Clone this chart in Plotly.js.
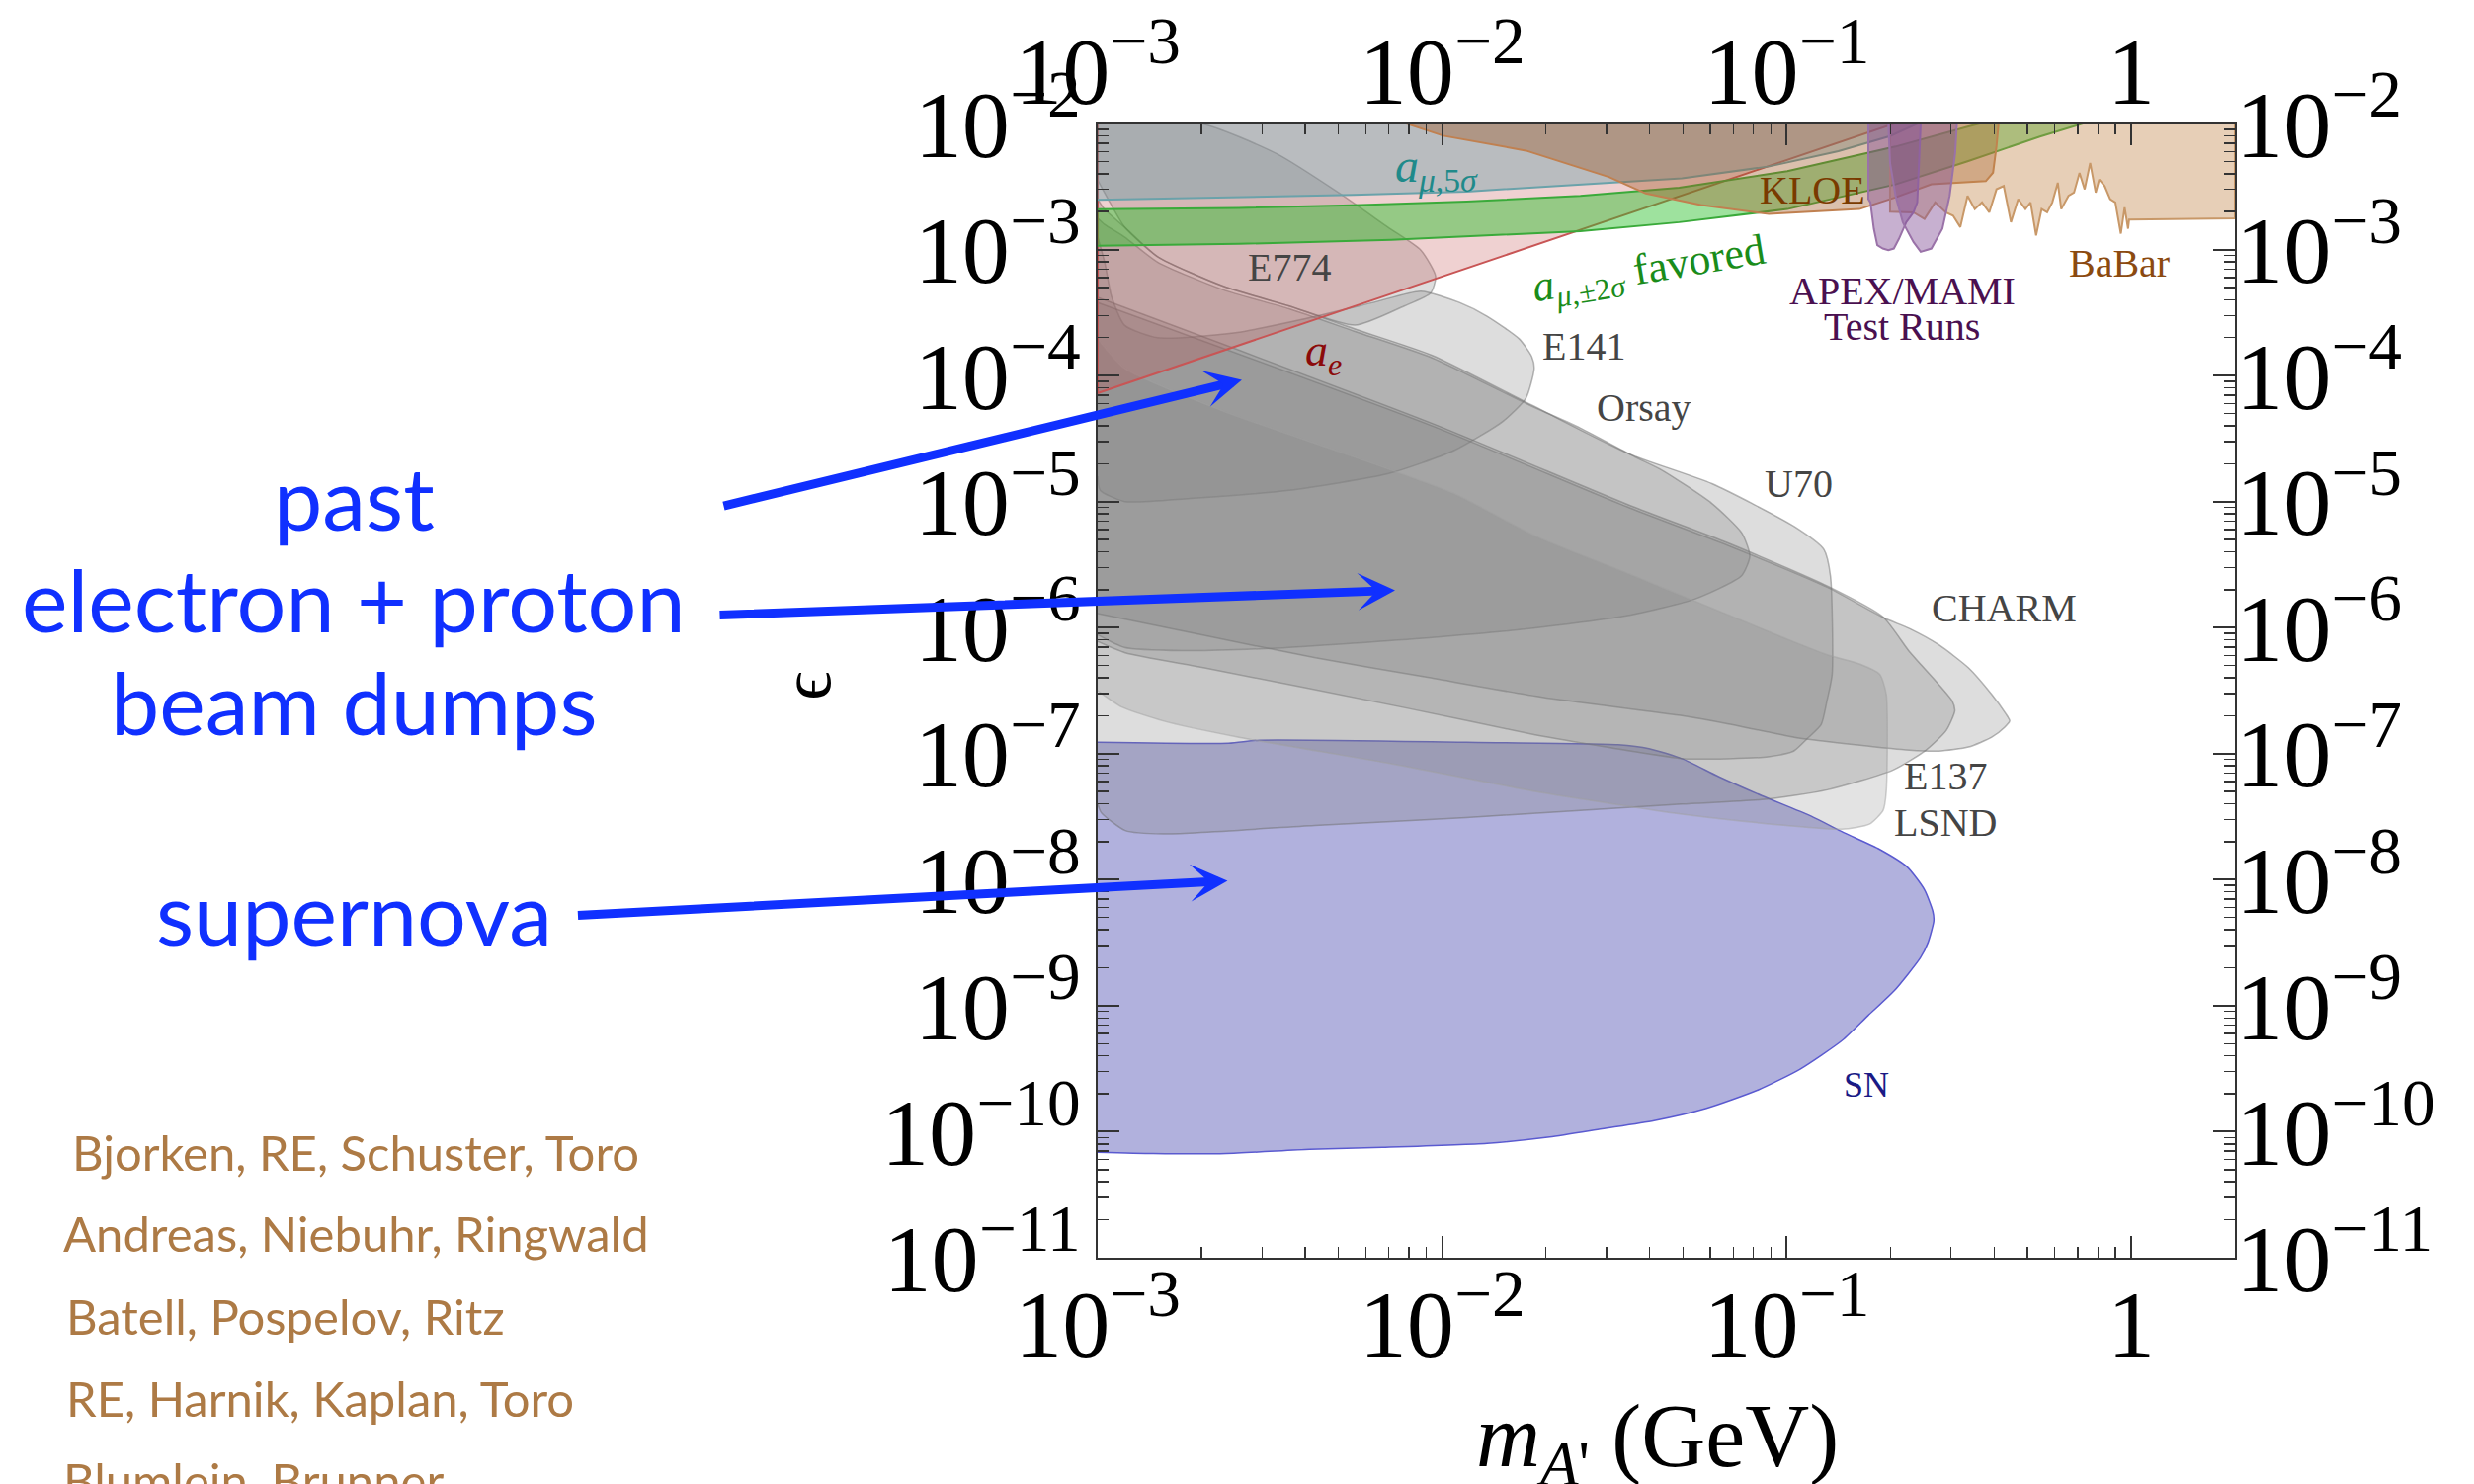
<!DOCTYPE html>
<html><head><meta charset="utf-8">
<script src="https://cdn.plot.ly/plotly-3.0.1.min.js"></script>
<style>html,body{margin:0;padding:0;background:#fff;}#chart{width:2504px;height:1502px;}</style>
</head><body><div id="chart"></div>
<script>
// All boundaries: log10(m_A' / GeV) and log10(epsilon)
const aeLogM = [-3, -3, -0.687];
const aeLogE = [-2, -4.139, -2];

const e774LogM = [-3, -2.70, -2.48, -2.30, -2.158, -2.062, -2.019, -2.033, -2.11, -2.253, -2.444, -2.635, -2.826, -2.922, -2.97, -3];
const e774LogE = [-2, -2.0, -2.24, -2.55, -2.822, -3.005, -3.213, -3.344, -3.448, -3.60, -3.448, -3.292, -3.057, -2.822, -2.6, -2.45];

const e141LogM = [-3, -2.979, -2.96, -2.922, -2.826, -2.6, -2.4, -2.2, -2.062, -1.95, -1.871, -1.776, -1.74, -1.733, -1.757, -1.823, -1.967, -2.158, -2.444, -2.731, -2.922, -2.993, -3];
const e141LogE = [-2.9, -3.109, -3.37, -3.60, -3.70, -3.66, -3.55, -3.42, -3.33, -3.42, -3.527, -3.71, -3.85, -3.944, -4.18, -4.362, -4.597, -4.78, -4.91, -4.975, -5.0, -4.91, -4.8];

const u70LogM = [-3, -2.98, -2.922, -2.826, -2.635, -2.444, -2.253, -2.029, -1.742, -1.456, -1.217, -0.978, -0.892, -0.873, -0.868, -0.883, -0.90, -0.94, -0.98, -1.054, -1.169, -1.30, -1.516, -1.73, -2.10, -2.69, -2.92, -3];
const u70LogE = [-2.6, -2.68, -2.822, -3.057, -3.292, -3.448, -3.631, -3.84, -4.232, -4.623, -4.858, -5.198, -5.38, -5.589, -6.372, -6.58, -6.77, -6.88, -6.98, -7.025, -7.04, -7.04, -6.95, -6.85, -6.64, -6.32, -6.2, -6.11];

const orsayLogM = [-3, -2.98, -2.922, -2.826, -2.635, -2.444, -2.253, -2.029, -1.742, -1.6, -1.437, -1.36, -1.217, -1.13, -1.107, -1.131, -1.265, -1.456, -1.742, -2.038, -2.478, -2.753, -2.923, -3];
const orsayLogE = [-2.75, -2.8, -2.9, -3.1, -3.32, -3.47, -3.65, -3.86, -4.24, -4.415, -4.65, -4.754, -5.015, -5.25, -5.433, -5.589, -5.772, -5.902, -6.007, -6.08, -6.162, -6.183, -6.157, -6.057];

const charmLogM = [-3, -2.029, -1.456, -1.169, -0.882, -0.72, -0.644, -0.558, -0.472, -0.405, -0.365, -0.3525, -0.367, -0.405, -0.472, -0.558, -0.644, -0.787, -0.978, -1.169, -1.30, -1.709, -2.038, -2.368, -2.698, -3];
const charmLogE = [-3.42, -4.40, -5.05, -5.35, -5.68, -5.92, -6.007, -6.137, -6.32, -6.53, -6.68, -6.74, -6.79, -6.87, -6.947, -6.98, -6.973, -6.934, -6.87, -6.764, -6.70, -6.553, -6.397, -6.24, -6.057, -5.888];

const e137LogM = [-3, -2.029, -1.456, -1.169, -0.882, -0.72, -0.644, -0.567, -0.52, -0.512, -0.537, -0.596, -0.691, -0.882, -1.073, -1.304, -1.93, -2.37, -2.81, -2.92, -2.99, -3];
const e137LogE = [-3.38, -4.38, -5.03, -5.33, -5.67, -5.916, -6.19, -6.425, -6.58, -6.66, -6.816, -6.973, -7.13, -7.287, -7.365, -7.40, -7.507, -7.57, -7.637, -7.61, -7.467, -7.4];

const lsndLogM = [-3, -2.922, -2.635, -2.253, -1.967, -1.728, -1.456, -1.0, -0.882, -0.787, -0.73, -0.711, -0.711, -0.72, -0.76, -0.84, -1.0, -1.304, -1.709, -2.148, -2.59, -2.81, -2.93, -3];
const lsndLogE = [-3.71, -3.944, -4.284, -4.649, -4.936, -5.276, -5.576, -6.09, -6.216, -6.29, -6.37, -6.53, -7.3, -7.45, -7.56, -7.60, -7.57, -7.48, -7.31, -7.08, -6.87, -6.74, -6.63, -6.50];

const snLogM = [-3, -2.62, -2.53, -1.93, -1.49, -1.40, -1.304, -1.198, -1.073, -0.93, -0.835, -0.73, -0.65, -0.60, -0.576, -0.573, -0.59, -0.612, -0.688, -0.764, -0.839, -0.961, -1.082, -1.233, -1.385, -1.536, -1.688, -1.87, -2.173, -2.385, -2.627, -2.839, -3];
const snLogE = [-6.91, -6.918, -6.893, -6.91, -6.93, -6.96, -7.04, -7.182, -7.333, -7.495, -7.626, -7.76, -7.90, -8.08, -8.25, -8.327, -8.5, -8.62, -8.882, -9.078, -9.275, -9.503, -9.667, -9.814, -9.912, -9.977, -10.042, -10.092, -10.124, -10.14, -10.173, -10.173, -10.163];

const amu5LogM = [-3, -2.258, -1.929, -1.599, -1.304, -1.05, -0.85, -0.70, -0.62, -3];
const amu5LogE = [-2.606, -2.567, -2.54, -2.488, -2.436, -2.34, -2.22, -2.10, -2.0, -2.0];

const amu2LogM = [-3, -2.59, -2.258, -1.929, -1.599, -1.312, -0.998, -0.684, -0.475, -0.44, -0.14, -0.265, -0.475, -0.684, -0.998, -1.312, -1.599, -2.148, -2.59, -3];
const amu2LogE = [-2.68, -2.67, -2.648, -2.62, -2.575, -2.509, -2.378, -2.183, -2.026, -2.0, -2.0, -2.104, -2.30, -2.483, -2.679, -2.783, -2.854, -2.924, -2.955, -2.971];

const kloeLogM = [-2.104, -1.997, -1.757, -1.516, -1.409, -1.249, -1.052, -0.789, -0.685, -0.58, -0.422, -0.401, -0.391, -0.385];
const kloeLogE = [-2.0, -2.097, -2.215, -2.424, -2.555, -2.647, -2.718, -2.679, -2.587, -2.483, -2.457, -2.39, -2.18, -2.0];

const babarLogM = [-0.70, -0.70, -0.632, -0.600, -0.569, -0.538, -0.517, -0.496, -0.475, -0.454, -0.433, -0.412, -0.391, -0.370, -0.349, -0.328, -0.307, -0.292, -0.276, -0.260, -0.244, -0.229, -0.213, -0.203, -0.182, -0.166, -0.150, -0.135, -0.119, -0.103, -0.093, -0.077, -0.061, -0.046, -0.030, -0.019, -0.009, -0.006, 0.301, 0.301];
const babarLogE = [-2.0, -2.70, -2.705, -2.757, -2.626, -2.705, -2.731, -2.822, -2.574, -2.679, -2.626, -2.705, -2.522, -2.496, -2.783, -2.6, -2.679, -2.626, -2.888, -2.679, -2.705, -2.626, -2.47, -2.679, -2.574, -2.548, -2.392, -2.522, -2.313, -2.548, -2.444, -2.496, -2.6, -2.626, -2.874, -2.666, -2.835, -2.762, -2.752, -2.0];

const apexLogM = [-0.763, -0.763, -0.757, -0.747, -0.737, -0.721, -0.705, -0.689, -0.674, -0.653, -0.632, -0.621, -0.611];
const apexLogE = [-2.0, -2.6, -2.626, -2.835, -2.966, -2.992, -3.005, -2.992, -2.914, -2.783, -2.705, -2.626, -2.0];

const mamiLogM = [-0.705, -0.700, -0.684, -0.663, -0.632, -0.611, -0.580, -0.548, -0.527, -0.511, -0.506];
const mamiLogE = [-2.0, -2.313, -2.574, -2.783, -2.94, -3.018, -2.992, -2.835, -2.574, -2.235, -2.0];

const tickFont = 'Liberation Serif, Times New Roman, serif';
const LOG = v => Math.pow(10, v);
function region(logM, logE, fill, line, width, smooth) {
  return {type:'scatter', mode:'lines', x: logM.map(LOG), y: logE.map(LOG), fill:'toself', fillcolor: fill,
    line:{color: line, width: width, shape: smooth ? 'spline' : 'linear', smoothing: 0.6},
    hoverinfo:'skip', showlegend:false};
}
const GRAYF = 'rgba(128,128,128,0.27)', GRAYL = 'rgba(110,110,110,0.5)';
const traces = [
  region(snLogM, snLogE, 'rgba(60,60,170,0.40)', '#5a5ad0', 1.5, true),
  region(e774LogM, e774LogE, GRAYF, GRAYL, 1.5, true),
  region(e141LogM, e141LogE, GRAYF, GRAYL, 1.5, true),
  region(orsayLogM, orsayLogE, GRAYF, GRAYL, 1.5, true),
  region(u70LogM, u70LogE, GRAYF, GRAYL, 1.5, true),
  region(charmLogM, charmLogE, GRAYF, GRAYL, 1.5, true),
  region(e137LogM, e137LogE, GRAYF, GRAYL, 1.5, true),
  region(lsndLogM, lsndLogE, 'rgba(128,128,128,0.22)', 'rgba(160,160,160,0.5)', 1.5, true),
  region(aeLogM, aeLogE, 'rgba(190,70,70,0.25)', '#c85555', 2, false),
  region(amu5LogM, amu5LogE, 'rgba(110,160,168,0.42)', '#6aa2aa', 2, false),
  region(amu2LogM, amu2LogE, 'rgba(40,190,40,0.45)', '#3aaa3a', 2, false),
  region(kloeLogM, kloeLogE, 'rgba(160,90,40,0.38)', '#c08050', 2, false),
  region(babarLogM, babarLogE, 'rgba(195,135,75,0.40)', '#c89868', 2, false),
  region(apexLogM, apexLogE, 'rgba(130,80,150,0.45)', '#9a72a8', 2, false),
  region(mamiLogM, mamiLogE, 'rgba(130,80,150,0.45)', '#9a72a8', 2, false),
  {type:'scatter', mode:'lines', x: snLogM.map(LOG), y: snLogE.map(LOG), xaxis:'x2', yaxis:'y2',
   opacity:0, line:{width:0}, hoverinfo:'skip', showlegend:false}
];

const axBase = {type:'log', dtick:1, exponentformat:'power', showgrid:false, zeroline:false,
  tickfont:{family: tickFont, size:77, color:'#000'}};
const lbl = (x, y, text, color, size, extra) => Object.assign({x:x, y:y, xref:'x', yref:'y', text:text, showarrow:false,
  xanchor:'center', yanchor:'middle', font:{family: tickFont, size: size || 40, color: color || '#454545'}}, extra || {});
const blue = '#1030ff', cite = '#ad7a45', sans = 'Lato, Open Sans, sans-serif';
const note = (x, y, text, color, size, anchor) => ({x:x, y:y, xref:'paper', yref:'paper', text:text, showarrow:false,
  xanchor: anchor || 'center', yanchor:'middle', font:{family: sans, size: size, color: color}});
const arrow = (x, y, ax, ay) => ({x:x, y:y, xref:'paper', yref:'paper', ax:ax, ay:ay, text:'', showarrow:true,
  arrowhead:3, arrowsize:0.7, arrowwidth:9, arrowcolor: blue, standoff:0});

const layout = {
  width:2504, height:1502, margin:{l:1111, r:242, t:125, b:229, pad:0},
  paper_bgcolor:'#fff', plot_bgcolor:'#fff', showlegend:false,
  xaxis: Object.assign({}, axBase, {range:[-3, Math.log10(2)], showline:true, linecolor:'#333', linewidth:2, mirror:'allticks',
    ticks:'inside', ticklen:22, tickwidth:2, tickcolor:'#333', ticklabelstandoff:-14,
    minor:{ticks:'inside', ticklen:11, tickwidth:1.5, tickcolor:'#333', dtick:'D1', showgrid:false}}),
  yaxis: Object.assign({}, axBase, {range:[-11, -2], showline:true, linecolor:'#333', linewidth:2, mirror:'allticks',
    ticks:'inside', ticklen:22, tickwidth:2, tickcolor:'#333',
    minor:{ticks:'inside', ticklen:11, tickwidth:1.5, tickcolor:'#333', dtick:'D1', showgrid:false}}),
  xaxis2: Object.assign({}, axBase, {range:[-3, Math.log10(2)], overlaying:'x', side:'top', anchor:'y2', ticks:'', showline:false, ticklabelstandoff:0}),
  yaxis2: Object.assign({}, axBase, {range:[-11, -2], overlaying:'y', side:'right', anchor:'x2', ticks:'', showline:false}),
  annotations: [
    lbl(-2.444, -3.14, 'E774'),
    lbl(-1.59, -3.77, 'E141'),
    lbl(-1.415, -4.25, 'Orsay'),
    lbl(-0.964, -4.856, 'U70'),
    lbl(-0.370, -5.843, 'CHARM'),
    lbl(-0.539, -7.18, 'E137'),
    lbl(-0.539, -7.55, 'LSND'),
    lbl(-0.769, -9.63, 'SN', '#1a1a85', 36),
    lbl(-2.345, -3.83, '<i>a</i><sub><i>e</i></sub>', '#8b0a0a', 46),
    lbl(-2.015, -2.36, '<i>a</i><sub><i>μ</i>,5<i>σ</i></sub>', '#1f8a8a', 48),
    lbl(-1.40, -3.17, '<i>a</i><sub><i>μ</i>,±2<i>σ</i></sub> favored', '#1a8c1a', 44, {textangle:-9.5}),
    lbl(-0.925, -2.53, 'KLOE', '#7a3a00'),
    lbl(-0.035, -3.11, 'BaBar', '#8b4a10'),
    lbl(-0.665, -3.33, 'APEX/MAMI', '#4a1050'),
    lbl(-0.665, -3.61, 'Test Runs', '#4a1050'),
    {x:0.492, y:-0.163, xref:'paper', yref:'paper', showarrow:false, xanchor:'center', yanchor:'middle',
     text:'<i>m</i><sub><i>A</i>\'</sub> (GeV)', font:{family: tickFont, size:90, color:'#000'}},
    {x:-0.256, y:0.504, xref:'paper', yref:'paper', showarrow:false, xanchor:'center', yanchor:'middle',
     text:'ϵ', textangle:-90, font:{family: 'Liberation Serif, DejaVu Serif, serif', size:72, color:'#000'}},
    note(-0.654, 0.6711, 'past', blue, 88),
    note(-0.654, 0.5806, 'electron + proton', blue, 88),
    note(-0.654, 0.4900, 'beam dumps', blue, 88),
    note(-0.654, 0.3053, 'supernova', blue, 88),
    arrow(0.1268, 0.774, -526, 128),
    arrow(0.2615, 0.5884, -685, 25),
    arrow(0.1142, 0.3323, -659, 35),
    note(-0.9035, 0.0928, 'Bjorken, RE, Schuster, Toro', cite, 49, 'left'),
    note(-0.9115, 0.0222, 'Andreas, Niebuhr, Ringwald', cite, 49, 'left'),
    note(-0.9090, -0.051, 'Batell, Pospelov, Ritz', cite, 49, 'left'),
    note(-0.9090, -0.1233, 'RE, Harnik, Kaplan, Toro', cite, 49, 'left'),
    note(-0.9115, -0.1956, 'Blumlein, Brunner', cite, 49, 'left')
  ]
};
Plotly.newPlot('chart', traces, layout, {displayModeBar:false, staticPlot:true});
</script></body></html>
